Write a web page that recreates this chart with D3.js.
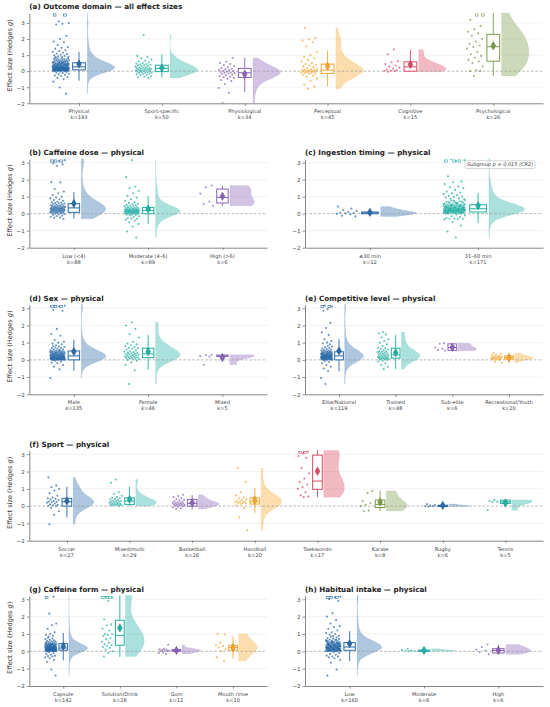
<!DOCTYPE html>
<html><head><meta charset="utf-8">
<script src="https://cdn.jsdelivr.net/npm/d3@7"></script>
<style>body{margin:0;background:#fff}svg{display:block;font-family:"DejaVu Sans",sans-serif}</style>
</head><body><svg id="c" width="550" height="707"></svg>
<script>
// ---------------- DATA ----------------
// stats rows: [q1, median, q3, whiskerLow, whiskerHigh, mean]
const catsA = ["Physical","Sport-specific","Physiological","Perceptual","Cognitive","Psychological"];
const kA = [193,50,34,45,15,26];
const statsA = [[0.08,0.27,0.52,-0.6,1.2,0.44],[-0.03,0.17,0.37,-0.4,1.04,0.2],[-0.39,-0.1,0.17,-1.3,0.83,-0.19],[-0.14,0.06,0.44,-0.94,1.27,0.31],[0.0,0.27,0.58,-0.04,1.31,0.42],[0.62,1.52,2.29,-0.31,4.5,1.58]];
const ptsA = [
[5.4,4.6,3.1,3.0,2.95,2.9,2.2,2.0,1.85,1.8,1.62,1.5,1.45,1.4,1.3,1.25,1.2,1.15,1.1,1.06,1.02,0.98,0.95,0.92,0.9,0.88,0.86,
-1.4,-1.02,-0.65,-0.5,-0.42,-0.36,-0.3,-0.27,-0.22,-0.2,-0.16,-0.12,-0.1,-0.06,-0.03,
0,0,0.01,0.02,0.02,0.03,0.03,0.04,0.04,0.05,0.05,0.05,0.06,0.06,0.07,0.07,0.07,0.08,0.08,0.08,0.09,0.09,0.09,0.1,0.1,0.1,0.01,0.03,0.05,0.06,0.08,0.09,0.04,
0.11,0.11,0.12,0.12,0.12,0.13,0.13,0.14,0.14,0.15,0.15,0.15,0.16,0.16,0.17,0.17,0.18,0.18,0.18,0.19,0.19,0.2,0.2,0.2,0.21,0.21,0.22,0.22,0.23,0.23,0.24,0.24,0.25,0.12,0.14,0.16,0.17,0.19,0.21,0.22,0.13,0.15,0.18,0.2,0.23,0.11,0.16,0.24,0.19,
0.26,0.27,0.28,0.28,0.29,0.3,0.3,0.31,0.32,0.33,0.33,0.34,0.35,0.35,0.36,0.37,0.38,0.38,0.39,0.4,0.4,0.41,0.42,0.43,0.44,0.45,0.45,0.46,0.47,0.48,0.49,0.5,0.5,0.51,0.52,0.53,0.54,0.55,0.27,0.31,0.34,0.37,0.41,0.44,0.48,0.52,0.29,0.36,
0.56,0.57,0.58,0.6,0.61,0.62,0.63,0.65,0.66,0.68,0.69,0.7,0.72,0.73,0.75,0.76,0.78,0.8,0.82,0.84,0.59],
[2.25,0.95,0.88,0.8,0.72,0.65,0.6,0.55,0.5,0.48,0.45,0.42,0.4,0.38,0.36,0.33,0.3,0.28,0.25,0.22,0.2,0.2,0.18,0.16,0.15,0.13,0.12,0.1,0.08,0.06,0.05,0.04,0.02,0.0,-0.02,-0.03,-0.05,-0.06,-0.08,-0.1,-0.12,-0.15,-0.18,-0.2,-0.22,-0.25,-0.3,-0.33,-0.38,-0.42],
[0.82,0.6,0.5,0.45,0.38,0.32,0.25,0.2,0.15,0.12,0.08,0.05,0.02,0.0,-0.02,-0.05,-0.08,-0.1,-0.12,-0.15,-0.18,-0.22,-0.25,-0.3,-0.35,-0.38,-0.42,-0.48,-0.55,-0.62,-0.8,-1.05,-1.35,-1.98],
[2.7,2.05,1.98,1.9,1.8,1.55,1.2,1.0,0.9,0.8,0.7,0.6,0.5,0.45,0.4,0.35,0.3,0.25,0.2,0.15,0.12,0.1,0.08,0.06,0.05,0.03,0.02,0.0,0.0,-0.02,-0.04,-0.06,-0.08,-0.1,-0.12,-0.15,-0.18,-0.22,-0.28,-0.35,-0.45,-0.6,-0.85,-0.95,-1.1],
[1.35,1.05,0.62,0.55,0.45,0.35,0.28,0.22,0.15,0.1,0.06,0.04,0.02,0.0,-0.04],
[4.5,3.9,3.2,2.8,2.6,2.45,2.35,2.2,2.0,1.85,1.7,1.6,1.5,1.4,1.2,1.05,0.95,0.85,0.7,0.6,0.5,0.3,0.05,0.0,0.0,-0.3]
];

const catsB = ["Low (<4)","Moderate (4–6)","High (>6)"];
const kB = [88,89,6];
const statsB = [[0.08,0.34,0.59,-0.29,1.28,0.6],[0.0,0.18,0.37,-0.6,1.02,0.28],[0.63,0.96,1.45,0.47,1.66,1.02]];
const ptsB = [
[4.2,3.6,3.4,3.15,3.1,2.95,2.9,2.82,1.86,1.84,1.45,1.3,1.2,1.1,1.0,0.95,0.9,0.85,0.8,0.76,0.7,0.68,0.66,0.62,0.6,0.6,0.57,0.55,0.52,0.5,0.48,0.47,0.45,0.45,0.43,0.42,0.4,0.4,0.38,0.37,0.36,0.35,0.34,0.33,0.33,0.32,0.31,0.3,0.3,0.29,0.28,0.27,0.26,0.25,0.25,0.24,0.23,0.22,0.21,0.2,0.2,0.19,0.18,0.17,0.16,0.15,0.14,0.13,0.12,0.11,0.1,0.09,0.08,0.07,0.06,0.05,0.04,0.02,0.0,-0.02,-0.05,-0.08,-0.12,-0.15,-0.18,-0.22,-0.25,-0.3],
[3.15,2.15,1.6,1.5,1.35,1.2,1.05,0.95,0.85,0.75,0.68,0.62,0.58,0.55,0.52,0.5,0.47,0.45,0.43,0.4,0.38,0.36,0.35,0.33,0.32,0.3,0.29,0.28,0.27,0.26,0.25,0.24,0.23,0.22,0.22,0.21,0.2,0.2,0.19,0.18,0.18,0.17,0.16,0.16,0.15,0.15,0.14,0.13,0.13,0.12,0.12,0.11,0.1,0.1,0.09,0.08,0.08,0.07,0.06,0.05,0.05,0.04,0.03,0.02,0.01,0.0,0.0,-0.02,-0.04,-0.06,-0.08,-0.1,-0.15,-0.2,-0.25,-0.3,-0.3,-0.35,-0.4,-0.5,-0.6,-0.75,-1.05,-1.4],
[1.66,1.55,1.18,0.72,0.57,0.47]
];

const catsC = ["≤30 min","31–60 min"];
const kC = [12,171];
const statsC = [[0.0,0.05,0.1,-0.12,0.22,0.08],[0.1,0.29,0.53,-0.55,1.21,0.47]];
const ptsC = [
[0.42,0.3,0.22,0.16,0.1,0.07,0.04,0.02,0.0,-0.03,-0.12,-0.16],
[4.5,3.8,3.4,3.2,3.15,3.1,2.2,1.9,1.85,1.75,1.6,1.55,1.5,1.4,1.3,1.25,1.2,1.15,1.1,1.05,1.0,0.98,0.95,0.9,0.88,0.85,
-1.4,-1.05,-0.7,-0.5,-0.35,-0.32,-0.3,-0.3,-0.28,-0.25,-0.2,-0.15,-0.1,-0.05,
0,0.01,0.02,0.03,0.03,0.04,0.05,0.05,0.06,0.07,0.08,0.08,0.09,0.1,0.1,0.11,0.11,0.12,0.13,0.13,0.14,0.15,0.15,0.16,0.16,0.17,0.18,0.18,0.19,0.2,0.2,0.21,0.21,0.22,0.22,0.23,0.24,0.24,0.25,0.25,0.26,0.26,0.27,0.28,0.28,0.29,0.29,0.3,0.3,0.31,0.32,0.32,0.33,0.34,0.34,0.35,0.36,0.36,0.37,0.38,0.39,0.4,0.4,0.41,0.42,0.43,0.44,0.45,0.46,0.47,0.48,0.49,0.5,0.51,0.52,0.53,0.55,0.56,0.58,0.6,0.62,0.64,0.66,0.68,0.7,0.73,0.76,0.8,0.12,0.14,0.17,0.19,0.23,0.27,0.31,0.35,0.06,0.09,0.02,0.15,0.2,0.24,0.28,0.33,0.38,0.43,0.47,0.52,0.57,0.63,0.04,0.07,0.11,0.16,0.21,0.26,0.3,0.35,0.41,0.45,0.5,0.54,0.59,0.67,0.72,0.78,0.01,0.13,0.18,0.22]
];

const catsD = ["Male","Female","Mixed"];
const kD = [135,46,5];
const statsD = [[0.0,0.23,0.52,-0.64,1.16,0.48],[0.13,0.35,0.68,-0.58,1.45,0.48],[0.2,0.22,0.28,0.2,0.3,0.14]];
const ptsD = [
[4.0,3.5,3.3,3.15,3.1,2.9,2.85,1.8,1.5,1.4,1.15,1.05,1.0,0.95,0.9,0.85,
-1.05,-0.55,-0.4,-0.3,-0.2,-0.15,-0.1,-0.05,
0,0,0,0.01,0.01,0.02,0.02,0.02,0.03,0.03,0.04,0.04,0.05,0.05,0.05,0.06,0.06,0.07,0.07,0.08,0.08,0.09,0.09,0.1,0.1,0.1,0.11,0.12,0.12,0.13,0.14,0.14,0.15,0.16,0.16,0.17,0.18,0.18,0.19,0.2,0.2,0.21,0.21,0.22,0.22,0.23,0.24,0.24,0.25,0.25,0.26,0.27,0.28,0.28,0.29,0.3,0.3,0.31,0.32,0.33,0.33,0.34,0.35,0.36,0.37,0.38,0.38,0.39,0.4,0.41,0.42,0.43,0.44,0.45,0.46,0.47,0.48,0.5,0.51,0.52,0.54,0.56,0.58,0.6,0.62,0.65,0.68,0.7,0.72,0.75,0.78,0.8,0.03,0.06,0.09,0.13,0.17,0.21,0.27,0.32,0.36,0.41,0.46,0.53,0.01,0.04,0.07,0.11,0.15],
[2.19,2.0,1.8,1.5,1.3,1.05,0.95,0.9,0.85,0.8,0.75,0.7,0.68,0.65,0.6,0.55,0.5,0.48,0.45,0.42,0.4,0.38,0.36,0.35,0.33,0.3,0.28,0.27,0.25,0.22,0.2,0.18,0.16,0.15,0.13,0.12,0.1,0.08,0.05,0.03,0.0,-0.05,-0.15,-0.3,-0.6,-1.4],
[0.3,0.28,0.22,0.2,-0.28]
];

const catsE = ["Elite/National","Trained","Sub-elite","Recreational/Youth"];
const kE = [119,48,6,20];
const statsE = [[0.0,0.23,0.47,-0.66,1.2,0.52],[0.1,0.29,0.68,-0.54,1.45,0.42],[0.55,0.72,0.93,0.53,0.96,0.73],[0.04,0.13,0.23,-0.17,0.38,0.13]];
const ptsE = [
[4.1,3.4,3.15,3.1,2.95,2.85,2.15,1.85,1.6,1.45,1.2,1.1,1.0,0.95,0.9,
-1.4,-1.05,-0.65,-0.5,-0.4,-0.3,-0.2,-0.12,-0.06,
0,0,0.01,0.02,0.03,0.03,0.04,0.05,0.05,0.06,0.07,0.08,0.08,0.09,0.1,0.1,0.11,0.12,0.12,0.13,0.14,0.15,0.15,0.16,0.17,0.18,0.18,0.19,0.2,0.2,0.21,0.22,0.22,0.23,0.24,0.25,0.25,0.26,0.27,0.28,0.29,0.3,0.3,0.31,0.32,0.33,0.34,0.35,0.36,0.37,0.38,0.4,0.41,0.42,0.44,0.45,0.46,0.48,0.5,0.52,0.54,0.56,0.58,0.6,0.63,0.66,0.7,0.74,0.78,0.82,0.02,0.06,0.11,0.14,0.19,0.23,0.27,0.33,0.39,0.43,0.07,0.13,0.17,0.21,0.26,0.04,0.09,0.16,0.24,0.35,0.47],
[1.62,1.55,1.48,1.3,1.2,1.1,1.0,0.9,0.8,0.7,0.68,0.65,0.6,0.55,0.52,0.5,0.47,0.45,0.42,0.4,0.38,0.35,0.32,0.3,0.28,0.26,0.25,0.22,0.2,0.18,0.16,0.15,0.14,0.12,0.11,0.1,0.08,0.06,0.05,0.04,0.02,0.0,-0.05,-0.1,-0.2,-0.3,-0.4,-0.54],
[0.96,0.94,0.72,0.65,0.58,0.53],
[0.38,0.35,0.3,0.26,0.22,0.2,0.18,0.16,0.14,0.13,0.12,0.1,0.09,0.07,0.05,0.04,0.02,0.0,-0.1,-0.17]
];

const catsF = ["Soccer","Mixed/multi","Basketball","Handball","Taekwondo","Karate","Rugby","Tennis"];
const kF = [27,29,26,20,17,8,6,5];
const statsF = [[0.0,0.25,0.45,-0.66,1.12,0.29],[0.1,0.29,0.48,0.01,1.12,0.39],[0.0,0.16,0.39,-0.19,0.64,0.19],[0.12,0.25,0.48,-0.39,1.06,0.35],[0.97,1.45,2.95,0.52,3.6,2.02],[-0.08,0.1,0.35,-0.28,0.88,0.23],[0.0,0.02,0.05,-0.02,0.12,0.04],[0.15,0.25,0.35,0.15,0.36,0.18]];
const ptsF = [
[1.66,1.2,1.1,1.0,0.9,0.75,0.6,0.5,0.45,0.42,0.38,0.35,0.3,0.27,0.25,0.22,0.2,0.15,0.1,0.08,0.05,0.02,0.0,-0.1,-0.3,-0.5,-1.05],
[1.54,1.35,0.82,0.7,0.6,0.52,0.48,0.45,0.4,0.38,0.35,0.32,0.3,0.28,0.26,0.25,0.22,0.2,0.18,0.15,0.14,0.12,0.1,0.1,0.08,0.06,0.05,0.03,0.01],
[0.66,0.58,0.52,0.45,0.4,0.36,0.32,0.28,0.25,0.22,0.2,0.18,0.16,0.15,0.13,0.11,0.1,0.08,0.06,0.05,0.03,0.0,-0.03,-0.08,-0.12,-0.16],
[2.2,1.4,0.8,0.62,0.5,0.45,0.4,0.35,0.3,0.27,0.25,0.22,0.2,0.18,0.15,0.12,0.05,-0.1,-0.65,-1.4],
[3.6,3.3,3.15,3.05,2.9,2.8,2.2,1.9,1.6,1.4,1.25,1.1,1.0,0.8,0.62,0.55,0.52],
[0.88,0.75,0.3,0.18,0.08,0.0,-0.26,-0.28],
[0.12,0.06,0.03,0.01,0.0,-0.02],
[0.36,0.3,0.26,0.22,-0.24]
];

const catsG = ["Capsule","Solution/Drink","Gum","Mouth rinse"];
const kG = [142,28,12,10];
const statsG = [[0.06,0.19,0.44,-0.52,1.06,0.29],[0.35,0.92,1.79,-0.33,4.0,1.35],[0.0,0.04,0.1,-0.15,0.15,0.05],[0.06,0.22,0.35,-0.42,0.87,0.22]];
const ptsG = [
[3.6,3.15,2.18,1.6,1.5,1.3,1.1,1.0,0.95,0.9,0.85,
-1.4,-1.05,-0.6,-0.5,-0.4,-0.35,-0.3,-0.28,-0.25,-0.2,-0.15,-0.1,-0.05,
0,0,0.01,0.01,0.02,0.02,0.03,0.03,0.04,0.04,0.05,0.05,0.06,0.06,0.07,0.07,0.08,0.08,0.09,0.09,0.1,0.1,0.11,0.11,0.12,0.12,0.13,0.13,0.14,0.14,0.15,0.15,0.16,0.16,0.17,0.17,0.18,0.18,0.19,0.19,0.2,0.2,0.21,0.21,0.22,0.22,0.23,0.24,0.25,0.25,0.26,0.27,0.28,0.29,0.3,0.3,0.31,0.32,0.33,0.34,0.35,0.36,0.37,0.38,0.39,0.4,0.41,0.42,0.43,0.44,0.45,0.46,0.48,0.5,0.52,0.54,0.56,0.58,0.6,0.63,0.66,0.7,0.74,0.78,0.02,0.05,0.08,0.11,0.14,0.17,0.2,0.23,0.27,0.32,0.03,0.06,0.09,0.12,0.15,0.18,0.24,0.29,0.35,0.42,0.01,0.04,0.07,0.1,0.13,0.16,0.19,0.22,0.26,0.31,0.37,0.47],
[4.0,3.5,3.3,3.15,3.1,2.9,1.85,1.55,1.5,1.3,1.2,1.0,0.98,0.95,0.9,0.75,0.7,0.55,0.5,0.4,0.35,0.3,0.25,0.2,0.1,0.0,-0.1,-0.3],
[0.38,0.15,0.12,0.1,0.07,0.05,0.04,0.02,0.0,-0.05,-0.1,-0.15],
[1.0,0.97,0.5,0.35,0.3,0.22,0.12,0.02,-0.35,-0.55]
];

const catsH = ["Low","Moderate","High"];
const kH = [160,6,6];
const statsH = [[0.06,0.25,0.5,-0.56,1.16,0.44],[0.01,0.04,0.07,0.0,0.15,0.05],[-0.1,0.05,0.15,-0.17,0.39,0.06]];
const ptsH = [
[4.3,3.7,3.3,3.15,3.1,3.0,2.9,2.2,2.0,1.8,1.6,1.45,1.4,1.3,1.2,1.1,1.05,1.0,0.95,0.9,0.88,
-1.4,-1.05,-0.65,-0.5,-0.4,-0.35,-0.3,-0.3,-0.25,-0.2,-0.15,-0.1,-0.05,
0,0,0.01,0.02,0.02,0.03,0.04,0.04,0.05,0.06,0.06,0.07,0.08,0.08,0.09,0.1,0.1,0.11,0.12,0.12,0.13,0.14,0.15,0.15,0.16,0.17,0.17,0.18,0.19,0.2,0.2,0.21,0.22,0.22,0.23,0.24,0.25,0.25,0.26,0.27,0.28,0.28,0.29,0.3,0.31,0.32,0.32,0.33,0.34,0.35,0.36,0.37,0.38,0.39,0.4,0.41,0.42,0.43,0.44,0.45,0.46,0.47,0.48,0.5,0.51,0.52,0.54,0.55,0.57,0.59,0.61,0.63,0.65,0.68,0.7,0.73,0.76,0.8,0.84,0.03,0.07,0.11,0.14,0.18,0.21,0.26,0.3,0.34,0.38,0.43,0.49,0.56,0.01,0.05,0.09,0.13,0.16,0.19,0.23,0.27,0.31,0.35,0.41,0.46,0.53,0.62,0.02,0.06,0.1,0.14,0.18,0.22,0.24,0.29,0.33,0.36,0.44,0.5,0.58,0.66,0.04,0.08,0.12,0.2,0.26],
[0.15,0.08,0.05,0.03,0.02,0.0],
[0.39,0.25,0.1,0.05,-0.05,-0.17]
];

const yTicks = [-2,-1,0,1,2,3];
const palette = ["#2a6aa8","#22b0a3","#8a62b8","#f5a52a","#d94a62","#7b9a4c"];
const noteC = "Subgroup p = 0.015 (CR2)";

// ---------------- LAYOUT ----------------
const panels = [
 {key:"a", title:"(a) Outcome domain — all effect sizes", cats:catsA, ks:kA, pts:ptsA, st:statsA, x0:29.3, x1:543, yTop:13.3, yBot:103.3, ymax:3.6, ylab:true},
 {key:"b", title:"(b) Caffeine dose — physical", cats:catsB, ks:kB, pts:ptsB, st:statsB, x0:29.3, x1:267, yTop:159.3, yBot:247.7, ymax:3.2, ylab:true},
 {key:"c", title:"(c) Ingestion timing — physical", cats:catsC, ks:kC, pts:ptsC, st:statsC, x0:305, x1:543, yTop:159.3, yBot:247.7, ymax:3.2, ylab:false, note:noteC},
 {key:"d", title:"(d) Sex — physical", cats:catsD, ks:kD, pts:ptsD, st:statsD, x0:29.3, x1:267, yTop:304.8, yBot:394.3, ymax:3.2, ylab:true},
 {key:"e", title:"(e) Competitive level — physical", cats:catsE, ks:kE, pts:ptsE, st:statsE, x0:305, x1:543, yTop:304.8, yBot:394.3, ymax:3.2, ylab:false},
 {key:"f", title:"(f) Sport — physical", cats:catsF, ks:kF, pts:ptsF, st:statsF, x0:29.3, x1:543, yTop:450.8, yBot:540.7, ymax:3.2, ylab:true},
 {key:"g", title:"(g) Caffeine form — physical", cats:catsG, ks:kG, pts:ptsG, st:statsG, x0:29.3, x1:267, yTop:595.8, yBot:686, ymax:3.2, ylab:true},
 {key:"h", title:"(h) Habitual intake — physical", cats:catsH, ks:kH, pts:ptsH, st:statsH, x0:305, x1:543, yTop:595.8, yBot:686, ymax:3.2, ylab:false}
];

const svg = d3.select("#c");
svg.append("rect").attr("width",550).attr("height",707).attr("fill","#fff");
const defs = svg.append("defs");
const fmt = d => d < 0 ? "\u2212" + Math.abs(d) : String(d);

function kde(vals){
  const n = vals.length;
  const sd = d3.deviation(vals) || 0.05;
  const bw = Math.max(sd * Math.pow(n, -0.2), 0.02);
  const lo = d3.min(vals), hi = d3.max(vals);
  const N = 120;
  const out = [];
  for (let i = 0; i <= N; i++){
    const v = lo + (hi - lo) * i / N;
    let s = 0;
    for (const x of vals){ const z = (v - x) / bw; s += Math.exp(-0.5 * z * z); }
    out.push({v, d:s});
  }
  const m = d3.max(out, o => o.d);
  out.forEach(o => o.d /= m);
  return out;
}

function drawPanel(p){
  const n = p.cats.length;
  const x = d3.scaleLinear().domain([-0.6, n - 0.4]).range([p.x0, p.x1]);
  const y = d3.scaleLinear().domain([-2, p.ymax]).range([p.yBot, p.yTop]);
  const u = x(1) - x(0);
  const g = svg.append("g");
  const cid = "clip" + p.key;
  defs.append("clipPath").attr("id", cid).append("rect")
    .attr("x", p.x0).attr("y", p.yTop - 0.5).attr("width", p.x1 - p.x0).attr("height", p.yBot - p.yTop + 0.5);

  // grid
  g.selectAll("line.grid").data(yTicks.filter(t => t !== 0 && t !== -2)).join("line")
    .attr("x1", p.x0).attr("x2", p.x1).attr("y1", d => y(d)).attr("y2", d => y(d))
    .attr("stroke", "#e9e9e9").attr("stroke-width", 0.6);

  const plot = g.append("g").attr("clip-path", `url(#${cid})`);

  // violins
  p.pts.forEach((vals, i) => {
    const col = palette[i % 6];
    const dens = kde(vals);
    const xs = x(i) + 0.1 * u, W = 0.33 * u;
    plot.append("path").datum(dens)
      .attr("d", d3.area().y(o => y(o.v)).x0(xs).x1(o => xs + o.d * W))
      .attr("fill", col).attr("fill-opacity", 0.38)
      .attr("stroke", col).attr("stroke-opacity", 0.25).attr("stroke-width", 0.4);
  });

  // zero line
  plot.append("line").attr("x1", p.x0).attr("x2", p.x1).attr("y1", y(0)).attr("y2", y(0))
    .attr("stroke", "#9a9a9a").attr("stroke-width", 0.7).attr("stroke-dasharray", "2.6,1.8");

  // points
  p.pts.forEach((vals, i) => {
    const col = palette[i % 6];
    vals.forEach((v, j) => {
      const fr = ((j * 0.6180339 + i * 0.37 + 0.13) % 1) - 0.5;
      const px = x(i) + (-0.22 + fr * 0.2) * u;
      if (v > p.ymax){
        plot.append("rect").attr("x", px - 1.4).attr("y", y(p.ymax) + 0.6).attr("width", 2.8).attr("height", 2.2)
          .attr("fill", "#fff").attr("fill-opacity", 0.6).attr("stroke", col).attr("stroke-width", 0.6);
      } else {
        plot.append("circle").attr("cx", px).attr("cy", y(v)).attr("r", 1.05)
          .attr("fill", col).attr("fill-opacity", 0.72);
      }
    });
  });

  // boxes
  p.st.forEach((s, i) => {
    const col = palette[i % 6];
    const [q1, med, q3, lo, hi, mean] = s;
    const cx = x(i), hw = 0.077 * u;
    plot.append("line").attr("x1", cx).attr("x2", cx).attr("y1", y(lo)).attr("y2", y(q1))
      .attr("stroke", col).attr("stroke-width", 0.9);
    plot.append("line").attr("x1", cx).attr("x2", cx).attr("y1", y(q3)).attr("y2", y(Math.min(hi, p.ymax + 0.3)))
      .attr("stroke", col).attr("stroke-width", 0.9);
    plot.append("rect").attr("x", cx - hw).attr("width", 2 * hw)
      .attr("y", y(q3)).attr("height", Math.max(y(q1) - y(q3), 1.2))
      .attr("fill", "#fff").attr("fill-opacity", 0.85).attr("stroke", col).attr("stroke-width", 1);
    plot.append("line").attr("x1", cx - hw).attr("x2", cx + hw).attr("y1", y(med)).attr("y2", y(med))
      .attr("stroke", col).attr("stroke-width", 1);
    plot.append("path").attr("d", d3.symbol(d3.symbolDiamond, 20)())
      .attr("transform", `translate(${cx},${y(mean)})`)
      .attr("fill", col).attr("stroke", d3.color(col).darker(0.6)).attr("stroke-width", 0.5);
  });

  // axes
  const ya = g.append("g").attr("transform", `translate(${p.x0},0)`)
    .call(d3.axisLeft(y).tickValues(yTicks).tickSize(2.5).tickSizeOuter(0).tickPadding(2).tickFormat(fmt));
  const xa = g.append("g").attr("transform", `translate(0,${p.yBot})`)
    .call(d3.axisBottom(x).tickValues(d3.range(n)).tickSize(2.5).tickSizeOuter(0).tickFormat(""));
  [ya, xa].forEach(a => {
    a.select(".domain").attr("stroke", "#666").attr("stroke-width", 0.8);
    a.selectAll(".tick line").attr("stroke", "#666").attr("stroke-width", 0.7);
    a.selectAll(".tick text").attr("fill", "#444").attr("font-size", 5.6).attr("font-family", "DejaVu Sans");
  });
  // x two-line labels
  p.cats.forEach((c, i) => {
    const t = g.append("text").attr("x", x(i)).attr("text-anchor", "middle")
      .attr("font-size", 5.1).attr("fill", "#444");
    t.append("tspan").attr("x", x(i)).attr("y", p.yBot + 10).text(c);
    t.append("tspan").attr("x", x(i)).attr("y", p.yBot + 16).text("k=" + p.ks[i]);
  });

  // title
  g.append("text").attr("x", p.x0).attr("y", p.yTop - 4).attr("font-size", 7.2).attr("font-weight", "bold")
    .attr("fill", "#222").text(p.title);

  // y label
  if (p.ylab){
    const cy = (p.yTop + p.yBot) / 2 - 3;
    const t = g.append("text").attr("transform", `translate(11.8,${cy}) rotate(-90)`)
      .attr("text-anchor", "middle").attr("font-size", 6.6).attr("fill", "#333");
    t.append("tspan").text("Effect size (Hedges ");
    t.append("tspan").attr("font-style", "italic").text("g");
    t.append("tspan").text(")");
  }

  // note
  if (p.note){
    const bx = p.x1 - 78, by = p.yTop + 1.4;
    g.append("rect").attr("x", bx).attr("y", by).attr("width", 70).attr("height", 7.8).attr("rx", 1.5)
      .attr("fill", "#fff").attr("fill-opacity", 0.9).attr("stroke", "#bdbdbd").attr("stroke-width", 0.6);
    g.append("text").attr("x", bx + 35).attr("y", by + 5.6).attr("text-anchor", "middle")
      .attr("font-size", 5).attr("font-style", "italic").attr("fill", "#444").text(p.note);
  }
}

panels.forEach(drawPanel);
</script></body></html>
